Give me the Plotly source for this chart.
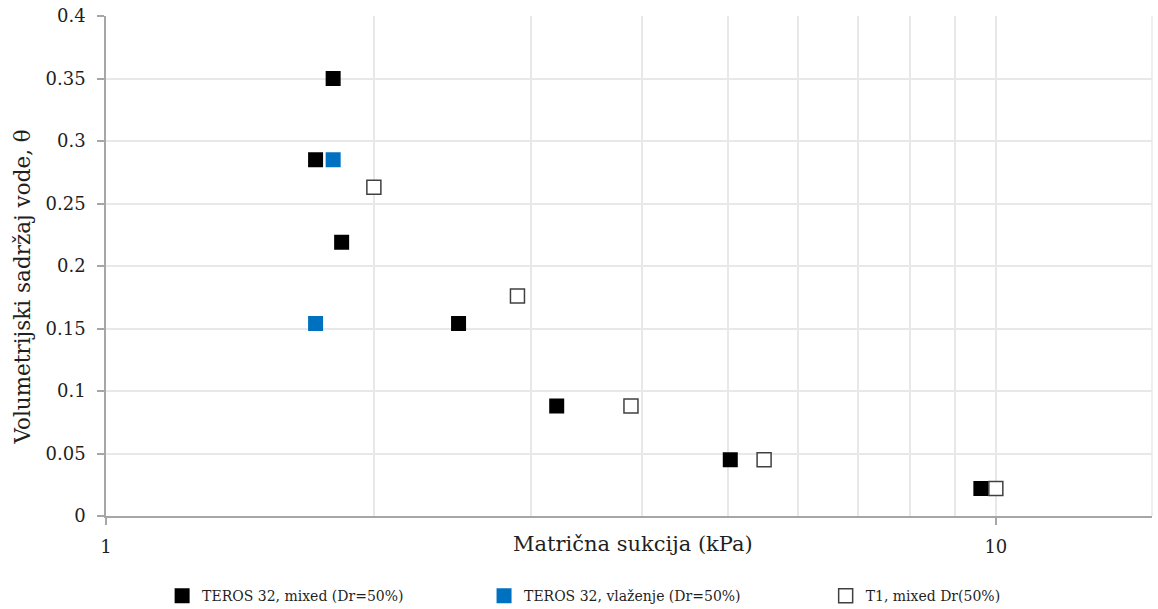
import plotly.graph_objects as go

# Matrična sukcija (kPa) vs volumetrijski sadržaj vode
teros_mixed_x = [1.80, 1.72, 1.84, 2.49, 3.21, 5.03, 9.62]
teros_mixed_y = [0.350, 0.285, 0.219, 0.154, 0.088, 0.045, 0.022]

teros_wet_x = [1.80, 1.72]
teros_wet_y = [0.285, 0.154]

t1_mixed_x = [2.00, 2.90, 3.89, 5.49, 10.0]
t1_mixed_y = [0.263, 0.176, 0.088, 0.045, 0.022]

names = [
    "TEROS 32, mixed (Dr=50%)",
    "TEROS 32, vlaženje (Dr=50%)",
    "T1, mixed Dr(50%)",
]

FONT = "DejaVu Serif, Liberation Serif, serif"
TEXT = "#1F1F1F"
GRID = "#E8E8E8"
AXIS = "#A6A6A6"

fig = go.Figure()
fig.add_trace(go.Scatter(
    x=teros_mixed_x, y=teros_mixed_y, mode="markers", name=names[0],
    marker=dict(symbol="square", size=15, color="#000000",
                line=dict(width=0)),
    legend="legend",
))
fig.add_trace(go.Scatter(
    x=teros_wet_x, y=teros_wet_y, mode="markers", name=names[1],
    marker=dict(symbol="square", size=15, color="#0070C0",
                line=dict(width=0)),
    legend="legend2",
))
fig.add_trace(go.Scatter(
    x=t1_mixed_x, y=t1_mixed_y, mode="markers", name=names[2],
    marker=dict(symbol="square", size=14, color="#FFFFFF",
                line=dict(width=1.5, color="#404040")),
    legend="legend3",
))

# right border of the plot area
fig.add_shape(type="line", xref="paper", yref="paper", x0=1, x1=1, y0=0, y1=1,
              line=dict(color=GRID, width=1.5), layer="below")

leg = dict(orientation="h", yref="container", y=0.021, yanchor="middle",
           xref="container", xanchor="left", bgcolor="rgba(0,0,0,0)",
           font=dict(family=FONT, size=14, color=TEXT), itemwidth=30)

fig.update_layout(
    width=1158, height=609,
    margin=dict(l=106, r=6, t=16, b=93, autoexpand=False),
    plot_bgcolor="white", paper_bgcolor="white",
    font=dict(family=FONT, size=18, color=TEXT),
    showlegend=True,
    legend=dict(leg, x=0.140),
    legend2=dict(leg, x=0.418),
    legend3=dict(leg, x=0.713),
    xaxis=dict(
        type="log", range=[0, 1.1755], automargin=False,
        tickmode="array", tickvals=[1, 10], ticktext=["1", "10"],
        ticks="outside", ticklen=7, tickcolor=AXIS, tickwidth=1.5,
        ticklabelstandoff=7,
        showline=True, linecolor=AXIS, linewidth=1.5,
        showgrid=True, gridcolor=GRID, gridwidth=1.5,
        minor=dict(tickmode="array", tickvals=[2, 3, 4, 5, 6, 7, 8, 9],
                   showgrid=True, gridcolor=GRID, gridwidth=1.5, ticks=""),
        zeroline=False,
    ),
    yaxis=dict(
        range=[0, 0.4], dtick=0.05, tick0=0, automargin=False,
        ticks="outside", ticklen=7, tickcolor=AXIS, tickwidth=1.5,
        ticklabelstandoff=8,
        showline=True, linecolor=AXIS, linewidth=1.5,
        showgrid=True, gridcolor=GRID, gridwidth=1.5,
        zeroline=False,
    ),
    annotations=[
        dict(text="Matrična sukcija (kPa)", xref="paper", yref="paper",
             x=0.5043, y=-0.056, xanchor="center", yanchor="middle",
             showarrow=False, font=dict(family=FONT, size=21, color=TEXT)),
        dict(text="Volumetrijski sadržaj vode, θ", xref="paper", yref="paper",
             x=-0.0803, y=0.457, xanchor="center", yanchor="middle",
             textangle=-90, showarrow=False,
             font=dict(family=FONT, size=21.5, color=TEXT)),
    ],
)

fig.write_html("out.html", config={"displayModeBar": False},
               post_script="document.body.style.margin='0';")
